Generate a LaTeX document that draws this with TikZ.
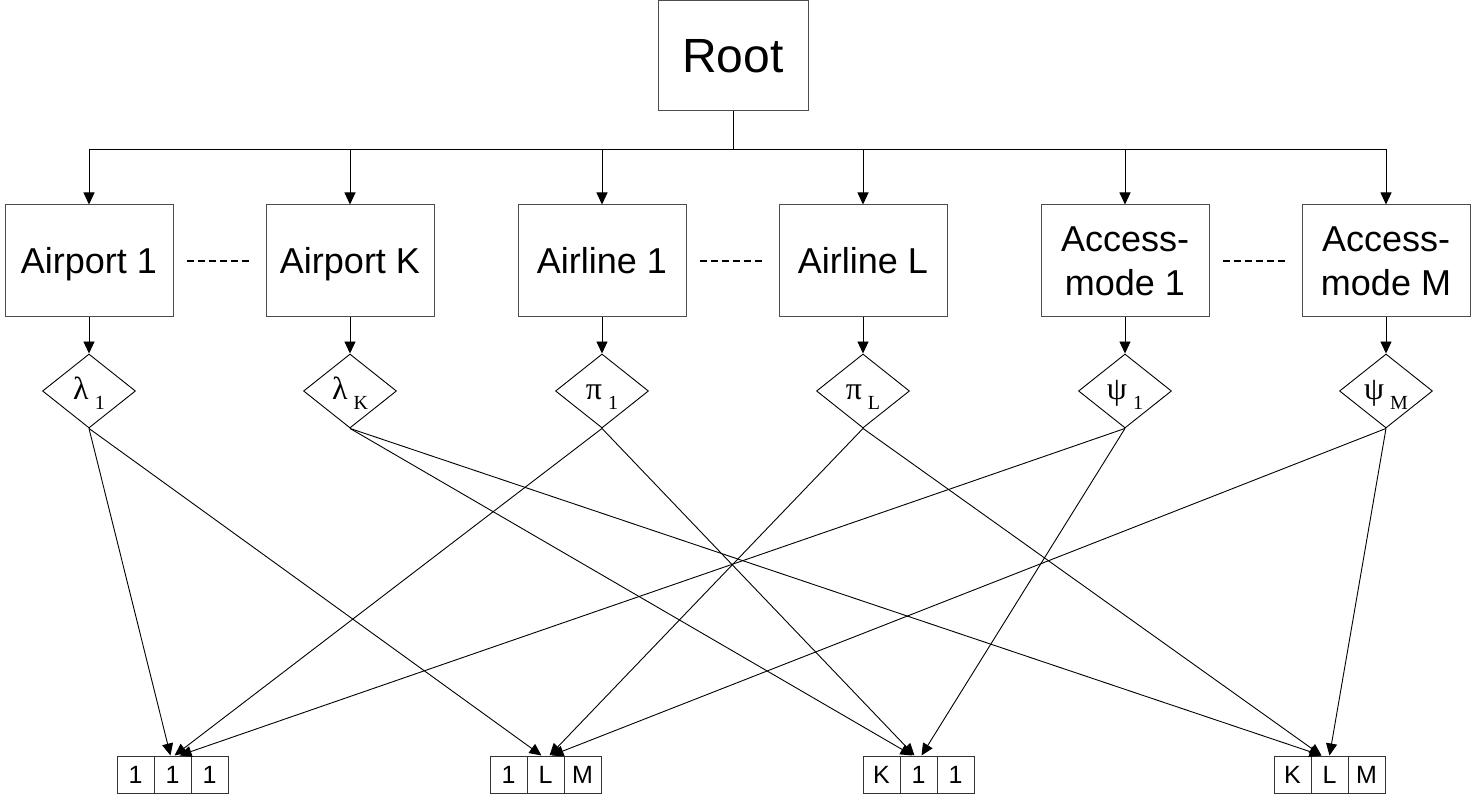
\documentclass[tikz,border=0pt]{standalone}
\usepackage{fontspec}
\setmainfont{Liberation Sans}
\newfontfamily\serifgr{Liberation Serif}
\usetikzlibrary{shapes.geometric,arrows.meta}
\newcommand\mysub[1]{\hspace{6pt}\raisebox{-10pt}{\fontsize{20}{20}\selectfont #1}}
\begin{document}
\begin{tikzpicture}[x=1pt,y=-1pt,
  box/.style={draw=black!70,line width=1pt,minimum width=168pt,minimum height=112pt,inner sep=0pt,font=\fontsize{36}{44}\selectfont,align=center},
  onebox/.style={box,text height=26pt,text depth=0pt},
  rootbox/.style={draw=black!70,line width=1pt,minimum width=150pt,minimum height=110pt,inner sep=0pt,font=\fontsize{48}{50}\selectfont,text height=34pt,text depth=0pt},
  dia/.style={draw,diamond,aspect=1.26,inner sep=0pt,minimum width=93pt,minimum height=74pt,line width=0.9pt,font=\serifgr\fontsize{32}{32}\selectfont,text height=18pt,text depth=0pt},
  cell/.style={draw=black!80,minimum width=37pt,minimum height=37pt,inner sep=0pt,line width=1pt,font=\fontsize{25}{26}\selectfont},
  arr/.style={-{Triangle[length=12pt,width=11pt]},line width=0.9pt},
  conn/.style={line width=0.9pt},
  dots/.style={line width=1.3pt,dash pattern=on 7pt off 4pt}]
\useasboundingbox (0,0) rectangle (1473,799);
% root
\node[rootbox] (root) at (733,56) {Root};
\coordinate (bus) at (733,149);
% boxes
\node[onebox] (a1) at (89,261) {Airport 1};
\node[onebox] (ak) at (350,261) {Airport K};
\node[onebox] (l1) at (602,261) {Airline 1};
\node[onebox] (ll) at (863,261) {Airline L};
\node[box] (m1) at (1125,261) {Access-\\mode 1};
\node[box] (mm) at (1386,261) {Access-\\mode M};
% diamonds
\node[dia] (d1) at (89,391) {λ\mysub{1}};
\node[dia] (dk) at (350,391) {λ\mysub{K}};
\node[dia] (p1) at (602,391) {π\mysub{1}};
\node[dia] (pl) at (863,391) {π\mysub{L}};
\node[dia] (s1) at (1125,391) {ψ\mysub{1}};
\node[dia] (sm) at (1386,391) {ψ\mysub{M}};
% bottom cells
\node[cell] (ga) at (135.5,774.5) {1};
\node[cell] (gb) at (172.5,774.5) {1};
\node[cell] (gc) at (209.5,774.5) {1};
\node[cell] (ha) at (508.5,774.5) {1};
\node[cell] (hb) at (545.5,774.5) {L};
\node[cell] (hc) at (582.5,774.5) {M};
\node[cell] (ia) at (881.5,774.5) {K};
\node[cell] (ib) at (918.5,774.5) {1};
\node[cell] (ic) at (955.5,774.5) {1};
\node[cell] (ja) at (1292.5,774.5) {K};
\node[cell] (jb) at (1329.5,774.5) {L};
\node[cell] (jc) at (1366.5,774.5) {M};
% tree from root
\draw[conn] (root.south) -- (bus);
\draw[conn] (a1.north |- bus) -- (mm.north |- bus);
\foreach \n in {a1,ak,l1,ll,m1,mm}{
  \draw[arr] (\n.north |- bus) -- (\n.north);
}
% box to diamond
\draw[arr] (a1.south) -- (d1.north);
\draw[arr] (ak.south) -- (dk.north);
\draw[arr] (l1.south) -- (p1.north);
\draw[arr] (ll.south) -- (pl.north);
\draw[arr] (m1.south) -- (s1.north);
\draw[arr] (mm.south) -- (sm.north);
% dotted connectors
\draw[dots] ([xshift=13pt]a1.east) -- ([xshift=-15pt]ak.west);
\draw[dots] ([xshift=13pt]l1.east) -- ([xshift=-15pt]ll.west);
\draw[dots] ([xshift=13pt]m1.east) -- ([xshift=-15pt]mm.west);
% diamonds to cells
\draw[arr] (d1.south) -- ([xshift=-2pt]gb.north);
\draw[arr] (d1.south) -- ([xshift=-4pt]hb.north);
\draw[arr] (dk.south) -- ([xshift=-6pt]ib.north);
\draw[arr] (dk.south) -- ([xshift=-8pt]jb.north);
\draw[arr] (p1.south) -- ([xshift=2pt]gb.north);
\draw[arr] (p1.south) -- ([xshift=-4pt]ib.north);
\draw[arr] (pl.south) -- ([xshift=4pt]hb.north);
\draw[arr] (pl.south) -- ([xshift=-8pt]jb.north);
\draw[arr] (s1.south) -- ([xshift=7pt]gb.north);
\draw[arr] (s1.south) -- ([xshift=3pt]ib.north);
\draw[arr] (sm.south) -- ([xshift=6pt]hb.north);
\draw[arr] (sm.south) -- ([xshift=0pt]jb.north);
\end{tikzpicture}
\end{document}
